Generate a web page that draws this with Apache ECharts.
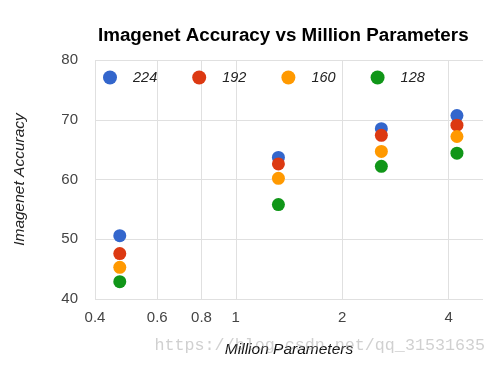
<!DOCTYPE html>
<html><head><meta charset="utf-8">
<script src="https://cdn.jsdelivr.net/npm/echarts@6/dist/echarts.min.js"></script>
<style>html,body{margin:0;padding:0;background:#fff}#c{width:498px;height:368px}</style>
</head><body><div id="c"></div>
<script>
const params = [0.47, 1.32, 2.58, 4.22];
const seriesNames = ['224', '192', '160', '128'];
const acc224 = [50.6, 63.7, 68.5, 70.7];
const acc192 = [47.6, 62.6, 67.4, 69.1];
const acc160 = [45.3, 60.2, 64.7, 67.2];
const acc128 = [42.9, 55.8, 62.2, 64.4];
const xTicks = [0.4, 0.6, 0.8, 1, 2, 4];
const yTicks = [40, 50, 60, 70, 80];
const colors = ['#3366cc', '#dc3912', '#ff9900', '#109618'];
const values = [acc224, acc192, acc160, acc128];

const chart = echarts.init(document.getElementById('c'), null, {renderer: 'canvas'});
chart.setOption({
  animation: false,
  title: {
    text: 'Imagenet Accuracy vs Million Parameters',
    left: 93, top: 21,
    textStyle: {fontFamily: 'Liberation Sans', fontWeight: 'bold', fontSize: 18.8, color: '#000'}
  },
  legend: {
    data: seriesNames,
    left: 98, top: 65,
    icon: 'circle', itemWidth: 14, itemHeight: 14, itemGap: 35,
    textStyle: {fontFamily: 'Liberation Sans', fontStyle: 'italic', fontSize: 14.5, color: '#222', padding: [0, 0, 0, 11]}
  },
  grid: {left: 95, right: 15, top: 60, bottom: 69},
  xAxis: {
    type: 'log', logBase: 2, min: 0.4, max: 5,
    name: 'Million Parameters', nameLocation: 'middle', nameGap: 43,
    nameTextStyle: {fontFamily: 'Liberation Sans', fontStyle: 'italic', fontSize: 15.5, color: '#111'},
    axisLine: {show: false},
    axisTick: {show: false, customValues: xTicks},
    axisLabel: {customValues: xTicks, fontFamily: 'Liberation Sans', fontSize: 15, color: '#444', margin: 11,
      formatter: v => String(+v.toFixed(2))},
    splitLine: {show: true, lineStyle: {color: '#e0e0e0', width: 1}}
  },
  yAxis: {
    type: 'value', min: 40, max: 80, interval: 10,
    name: 'Imagenet Accuracy', nameLocation: 'middle', nameGap: 67,
    nameTextStyle: {fontFamily: 'Liberation Sans', fontStyle: 'italic', fontSize: 15.5, color: '#222'},
    axisLine: {show: false}, axisTick: {show: false},
    axisLabel: {fontFamily: 'Liberation Sans', fontSize: 15, color: '#444', margin: 17},
    splitLine: {show: true, lineStyle: {color: '#e0e0e0', width: 1}}
  },
  graphic: [{
    type: 'text', right: 13, top: 337, silent: true, z: 100,
    style: {text: 'https://blog.csdn.net/qq_31531635', fontFamily: 'Liberation Mono', fontSize: 16.7, fill: 'rgba(150,150,150,0.45)'}
  }],
  series: seriesNames.map((n, i) => ({
    name: n, type: 'scatter', symbol: 'circle', symbolSize: 13,
    itemStyle: {color: colors[i], opacity: 1},
    data: params.map((p, j) => [p, values[i][j]])
  }))
});
</script></body></html>
